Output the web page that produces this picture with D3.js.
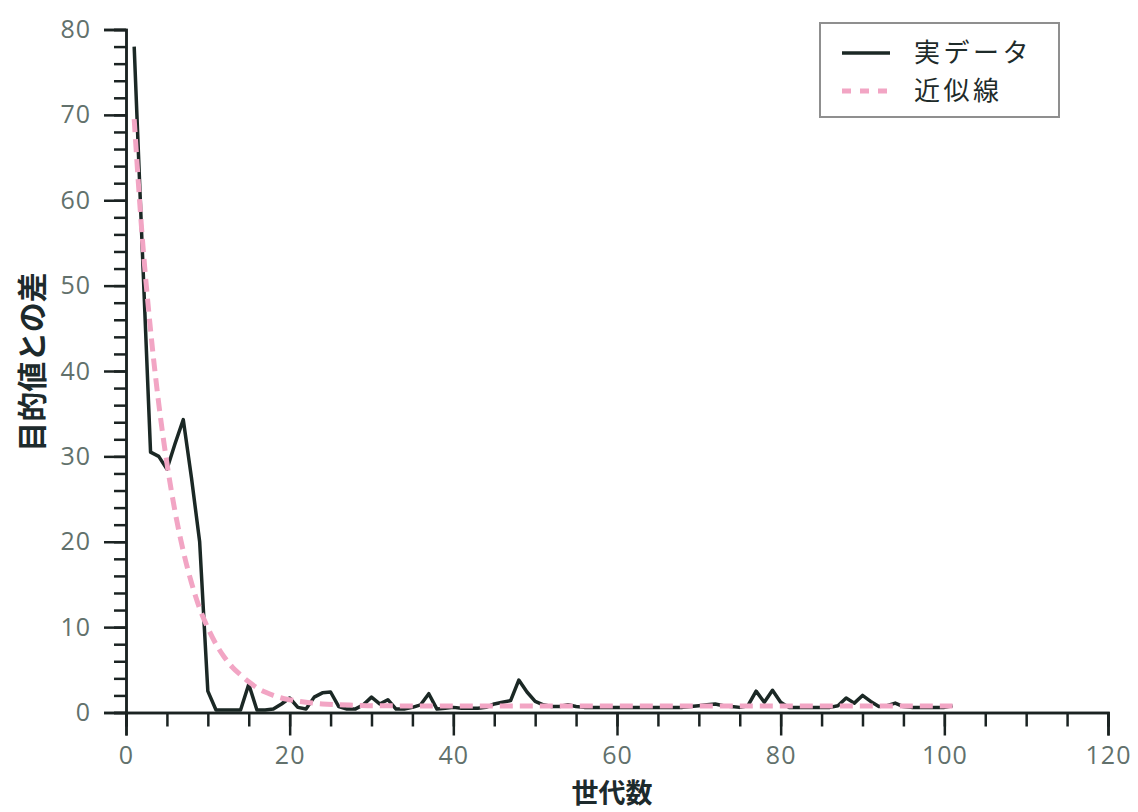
<!DOCTYPE html>
<html lang="ja">
<head>
<meta charset="utf-8">
<script src="https://cdn.jsdelivr.net/npm/d3@7"></script>
<style>
  html, body { margin: 0; padding: 0; background: #ffffff; }
  svg { display: block; }
  .tick-label { font-family: "Open Sans", "Noto Sans", sans-serif; font-size: 25px; letter-spacing: 1px; fill: #62716c; }
  .jp { font-family: "Noto Sans CJK JP", sans-serif; }
</style>
</head>
<body>
<svg id="chart" width="1138" height="812"></svg>
<script>
// 世代ごとの目的値との差（実データ）
const generations = d3.range(1, 102);
const actualValues = [
  78, 54, 30.5, 30, 28.5, 31.5, 34.3, 27.5, 20, 2.5,      // 1-10
  0.3, 0.3, 0.3, 0.3, 3.3, 0.3, 0.3, 0.4, 1.0, 1.7,       // 11-20
  0.6, 0.4, 1.8, 2.3, 2.4, 0.7, 0.4, 0.4, 0.9, 1.8,       // 21-30
  1.0, 1.5, 0.4, 0.4, 0.6, 0.9, 2.2, 0.4, 0.5, 0.6,       // 31-40
  0.5, 0.5, 0.5, 0.6, 1.0, 1.2, 1.4, 3.8, 2.4, 1.3,       // 41-50
  0.9, 0.7, 0.7, 0.9, 0.7, 0.6, 0.6, 0.6, 0.6, 0.6,       // 51-60
  0.6, 0.6, 0.6, 0.6, 0.6, 0.6, 0.6, 0.6, 0.7, 0.8,       // 61-70
  0.9, 1.0, 0.8, 0.7, 0.6, 0.8, 2.5, 1.2, 2.6, 1.2,       // 71-80
  0.6, 0.6, 0.6, 0.6, 0.6, 0.6, 0.8, 1.7, 1.1, 2.0,       // 81-90
  1.3, 0.7, 0.8, 1.1, 0.7, 0.6, 0.6, 0.6, 0.6, 0.6,       // 91-100
  0.8                                                     // 101
];

// 近似線（指数近似）の読み取り値
const fitGenerations = [1, 2, 3, 4, 5, 6, 7, 8, 9, 10, 11, 12, 13, 14, 15, 16, 17, 18, 19, 20,
  22, 24, 26, 28, 30, 40, 60, 80, 101];
const fitValues = [69.5, 55.5, 44.8, 36.2, 29.2, 23.5, 18.9, 15.2, 12.2, 9.9,
  8.0, 6.5, 5.3, 4.4, 3.6, 2.9, 2.4, 2.0, 1.7, 1.5,
  1.2, 1.0, 0.9, 0.85, 0.8, 0.75, 0.75, 0.75, 0.75];

// 軸の目盛り
const xMajorTicks = [0, 20, 40, 60, 80, 100, 120];
const xMinorTicks = d3.range(0, 121, 5);
const yMajorTicks = [0, 10, 20, 30, 40, 50, 60, 70, 80];
const yMinorTicks = d3.range(0, 81, 2);

const legendLabels = ["実データ", "近似線"];
const xTitle = "世代数";
const yTitle = "目的値との差";

const svg = d3.select("#chart");
const axisColor = "#1b2322";
const dataColor = "#1b2825";
const fitColor = "#f2a5c4";

const x = d3.scaleLinear().domain([0, 120]).range([126, 1108]);
const y = d3.scaleLinear().domain([0, 80]).range([712.5, 29.5]);

// 軸（小目盛り → 大目盛り）
const yMinor = svg.append("g").attr("transform", `translate(${x(0)},0)`)
  .call(d3.axisLeft(y).tickValues(yMinorTicks).tickSize(12).tickFormat(""));
const yMajor = svg.append("g").attr("transform", `translate(${x(0)},0)`)
  .call(d3.axisLeft(y).tickValues(yMajorTicks).tickSize(22).tickPadding(13));
const xMinor = svg.append("g").attr("transform", `translate(0,${y(0)})`)
  .call(d3.axisBottom(x).tickValues(xMinorTicks).tickSize(14).tickFormat(""));
const xMajor = svg.append("g").attr("transform", `translate(0,${y(0)})`)
  .call(d3.axisBottom(x).tickValues(xMajorTicks).tickSize(23).tickPadding(11));

[yMinor, yMajor, xMinor, xMajor].forEach(g => {
  g.selectAll(".domain").attr("stroke", axisColor).attr("stroke-width", 2.5);
  g.selectAll(".tick line").attr("stroke", axisColor).attr("stroke-width", 2.5);
  g.selectAll("text").attr("class", "tick-label").attr("font-size", null).attr("font-family", null);
});

// 実データ
const line = d3.line().x(d => x(d[0])).y(d => y(d[1]));
svg.append("path")
  .datum(generations.map((g, i) => [g, actualValues[i]]))
  .attr("fill", "none")
  .attr("stroke", dataColor)
  .attr("stroke-width", 3.5)
  .attr("stroke-linejoin", "round")
  .attr("d", line);

// 近似線
const fitLine = d3.line().curve(d3.curveMonotoneX).x(d => x(d[0])).y(d => y(d[1]));
svg.append("path")
  .datum(fitGenerations.map((g, i) => [g, fitValues[i]]))
  .attr("fill", "none")
  .attr("stroke", fitColor)
  .attr("stroke-width", 5)
  .attr("stroke-dasharray", "13,7")
  .attr("d", fitLine);

// 軸タイトル
svg.append("text")
  .attr("class", "jp")
  .attr("x", 612).attr("y", 803)
  .attr("text-anchor", "middle")
  .attr("font-size", 27).attr("font-weight", "bold")
  .attr("fill", "#1d2a2c")
  .text(xTitle);

svg.append("text")
  .attr("class", "jp")
  .attr("transform", "translate(43,362) rotate(-90)")
  .attr("text-anchor", "middle")
  .attr("font-size", 30).attr("font-weight", "bold")
  .attr("fill", "#1d2a2c")
  .text(yTitle);

// 凡例
const legend = svg.append("g");
legend.append("rect")
  .attr("x", 820).attr("y", 23).attr("width", 239).attr("height", 94)
  .attr("fill", "#ffffff").attr("stroke", "#8f8f8f").attr("stroke-width", 2);
legend.append("line")
  .attr("x1", 842).attr("x2", 890).attr("y1", 53).attr("y2", 53)
  .attr("stroke", dataColor).attr("stroke-width", 3.5);
legend.append("line")
  .attr("x1", 842).attr("x2", 892).attr("y1", 91).attr("y2", 91)
  .attr("stroke", fitColor).attr("stroke-width", 5).attr("stroke-dasharray", "9,9");
legend.selectAll("text.legend-label")
  .data(legendLabels)
  .join("text")
  .attr("class", "jp legend-label")
  .attr("x", 914)
  .attr("y", (d, i) => 53 + i * 38)
  .attr("dy", "0.35em")
  .attr("font-size", 26)
  .attr("letter-spacing", 3.5)
  .attr("fill", "#1e2b2a")
  .text(d => d);
</script>
</body>
</html>
